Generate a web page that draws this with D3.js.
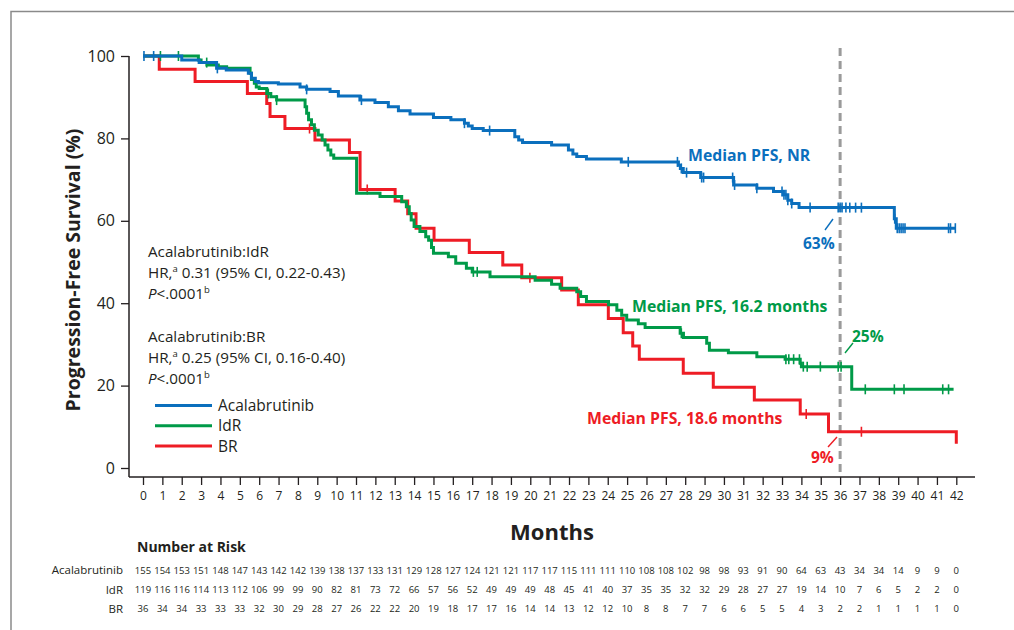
<!DOCTYPE html>
<html><head><meta charset="utf-8">
<script src="https://cdn.jsdelivr.net/npm/d3@7"></script>
<style>
body{margin:0;background:#fff;}
svg{display:block;font-family:"Open Sans",sans-serif;}
</style></head>
<body><svg id="chart" width="1014" height="630"></svg>
<script>
// ---------- data ----------
const seriesNames = ["Acalabrutinib", "IdR", "BR"];
const seriesColors = ["#0b6fbd", "#009a48", "#ee1c25"];

// Kaplan-Meier step change points [month, PFS %]
const acalSteps = [[0,100],[2.0,99.0],[2.9,98.4],[3.8,97.0],[4.3,96.6],[5.44,95.8],[5.6,94.6],[5.8,93.8],[5.96,93.5],[6.99,93.2],[8.11,92.5],[8.45,91.9],[9.66,91.4],[10.09,90.3],[11.2,89.3],[11.98,88.7],[12.67,87.7],[13.19,86.7],[13.79,85.9],[15.0,85.1],[15.9,84.5],[16.6,83.7],[16.8,83.0],[17.0,82.4],[17.57,81.9],[19.2,80.4],[19.4,79.6],[19.6,79.0],[21.1,78.4],[21.97,77.2],[22.2,76.2],[22.4,75.6],[22.9,75.0],[24.7,74.3],[27.65,73.5],[27.75,72.7],[27.9,71.7],[28.8,70.5],[30.5,68.7],[31.7,67.9],[32.56,67.1],[33.07,66.3],[33.3,65.0],[33.5,64.2],[33.88,63.2],[38.8,60.5],[38.9,58.2],[41.95,58.2]];
const idrSteps = [[0,100],[2.86,99.0],[3.0,98.4],[3.3,97.8],[3.89,97.4],[4.32,97.0],[5.53,95.8],[5.6,94.3],[5.75,93.4],[5.85,92.5],[6.0,92.1],[6.39,90.9],[6.6,90.1],[6.9,89.3],[8.37,87.7],[8.45,86.1],[8.55,84.5],[8.7,83.3],[8.85,82.0],[9.05,80.8],[9.25,79.6],[9.4,78.4],[9.55,77.2],[9.7,76.0],[9.85,75.2],[11.03,66.7],[12.24,65.9],[13.36,64.6],[13.6,63.4],[13.75,61.8],[13.85,60.2],[14.0,58.6],[14.3,57.4],[14.6,56.1],[14.75,55.3],[14.9,53.5],[15.0,52.1],[15.77,51.3],[16.15,49.7],[16.7,48.5],[17.0,47.6],[17.92,46.4],[20.25,45.6],[21.1,44.6],[21.54,43.6],[22.4,42.8],[22.6,41.6],[22.9,40.4],[24.04,39.6],[24.47,38.3],[24.72,37.1],[24.98,35.9],[25.58,35.0],[25.93,34.1],[27.74,32.7],[27.91,31.7],[29.11,30.3],[29.25,28.6],[30.23,28.0],[31.7,27.0],[33.16,26.4],[33.94,25.4],[34.0,24.6],[36.6,19.1],[41.86,19.1]];
const brSteps = [[0,100],[0.84,96.8],[2.69,93.8],[5.39,90.9],[6.39,88.5],[6.56,85.3],[7.33,82.4],[8.88,79.6],[10.66,76.6],[11.21,67.6],[13.02,64.8],[13.67,61.7],[14.1,58.2],[15.03,55.3],[16.85,52.3],[18.58,49.3],[19.56,46.2],[21.62,43.2],[22.48,39.6],[24.03,36.3],[24.8,32.8],[25.29,29.6],[25.63,26.4],[27.9,23.0],[29.45,19.6],[31.57,16.5],[33.94,13.1],[35.4,8.8],[42.0,8.8],[42.0,5.9]];

// censored observations (months)
const acalCensor = [0.05,0.55,3.84,8.45,11.28,16.6,17.9,25.06,27.6,27.8,28.07,28.85,28.95,30.45,30.55,31.7,33.0,33.1,33.2,33.3,33.5,34.45,35.9,36.0,36.1,36.3,36.5,36.8,37.1,38.82,38.95,39.05,39.15,39.25,39.35,41.6,41.7,41.95];
const idrCensor = [0.9,1.83,3.29,6.47,6.9,17.06,17.26,27.8,33.2,33.35,33.6,33.9,34.1,34.3,34.98,35.9,36.05,37.3,38.8,39.3,41.3,41.6];
const brCensor = [8.6,11.58,19.98,34.25,37.1];

// number at risk, months 0..42
const riskMonths = [0,1,2,3,4,5,6,7,8,9,10,11,12,13,14,15,16,17,18,19,20,21,22,23,24,25,26,27,28,29,30,31,32,33,34,35,36,37,38,39,40,41,42];
const acalRisk = [155,154,153,151,148,147,143,142,142,139,138,137,133,131,129,128,127,124,121,121,117,117,115,111,111,110,108,108,102,98,98,93,91,90,64,63,43,34,34,14,9,9,0];
const idrRisk = [119,116,116,114,113,112,106,99,99,90,82,81,73,72,66,57,56,52,49,49,49,48,45,41,40,37,35,35,32,32,29,28,27,27,19,14,10,7,6,5,2,2,0];
const brRisk = [36,34,34,33,33,33,32,30,29,28,27,26,22,22,20,19,18,17,17,16,14,14,13,12,12,10,8,8,7,7,6,6,5,5,4,3,2,2,1,1,1,1,0];

const xTicks = riskMonths;
const yTicks = [0,20,40,60,80,100];
const landmarkMonth = 36;
const landmarkLabels = ["63%", "25%", "9%"];
const medianLabels = ["Median PFS, NR", "Median PFS, 16.2 months", "Median PFS, 18.6 months"];

// ---------- drawing ----------
const svg = d3.select("#chart");
const ink = "#231f20";
const x = d3.scaleLinear().domain([0,42]).range([143,956.3]);
const y = d3.scaleLinear().domain([0,100]).range([468,56]);
const axisY = 477, axisX = 129;

// frame
svg.append("path").attr("d","M11,630 L11,11.5 L1014,11.5").attr("fill","none").attr("stroke","#8a8a8a").attr("stroke-width",1.5);

// axes
const xAxis = svg.append("g").attr("transform",`translate(0,${axisY})`)
  .call(d3.axisBottom(x).tickValues(xTicks).tickSize(8).tickPadding(6).tickFormat(d3.format("d")));
xAxis.select(".domain").remove();
xAxis.selectAll("line").attr("stroke",ink).attr("stroke-width",1.3);
xAxis.selectAll("text").attr("font-size",12).attr("fill",ink).attr("font-family","Open Sans");
svg.append("line").attr("x1",axisX).attr("x2",975).attr("y1",axisY).attr("y2",axisY).attr("stroke",ink).attr("stroke-width",1.5);

const yAxis = svg.append("g").attr("transform",`translate(${axisX},0)`)
  .call(d3.axisLeft(y).tickValues(yTicks).tickSize(8).tickPadding(6));
yAxis.select(".domain").remove();
yAxis.selectAll("line").attr("stroke",ink).attr("stroke-width",1.3);
yAxis.selectAll("text").attr("font-size",16).attr("fill",ink).attr("font-family","Open Sans");
svg.append("line").attr("x1",axisX).attr("x2",axisX).attr("y1",y(100)).attr("y2",axisY).attr("stroke",ink).attr("stroke-width",1.5);

// axis titles
svg.append("text").attr("transform","translate(80,270) rotate(-90)").attr("text-anchor","middle")
  .attr("font-size",19.5).attr("font-weight","bold").attr("fill",ink).text("Progression-Free Survival (%)");
svg.append("text").attr("x",552).attr("y",540).attr("text-anchor","middle")
  .attr("font-size",22).attr("font-weight","bold").attr("fill",ink).text("Months");

// landmark dashed line
svg.append("line").attr("x1",x(landmarkMonth)).attr("x2",x(landmarkMonth)).attr("y1",48).attr("y2",axisY)
  .attr("stroke","#9a9a9a").attr("stroke-width",3).attr("stroke-dasharray","8,5");

// curves
const allSteps = [acalSteps, idrSteps, brSteps];
const allCensor = [acalCensor, idrCensor, brCensor];
const line = d3.line().x(d=>x(d[0])).y(d=>y(d[1])).curve(d3.curveStepAfter);
function survAt(steps, t){ let v = steps[0][1]; for(const s of steps){ if(s[0] <= t) v = s[1]; } return v; }

[2,1,0].forEach(i=>{
  svg.append("path").datum(allSteps[i]).attr("d",line).attr("fill","none")
    .attr("stroke",seriesColors[i]).attr("stroke-width",3);
  svg.append("g").selectAll("line").data(allCensor[i]).join("line")
    .attr("x1",d=>x(d)).attr("x2",d=>x(d))
    .attr("y1",d=>y(survAt(allSteps[i],d))-5).attr("y2",d=>y(survAt(allSteps[i],d))+5)
    .attr("stroke",seriesColors[i]).attr("stroke-width",1.6);
});

// median labels
const medPos = [[688,161],[632,312],[587,424]];
medianLabels.forEach((t,i)=>{
  svg.append("text").attr("x",medPos[i][0]).attr("y",medPos[i][1]).attr("font-size",15.8)
    .attr("font-weight","bold").attr("fill",seriesColors[i]).text(t);
});
// landmark labels + leaders
const lmPos = [[803,249],[852,342],[811,463]];
const leaders = [[825,230,833,219],[845,353,853,343],[828,447,837,437]];
landmarkLabels.forEach((t,i)=>{
  svg.append("text").attr("x",lmPos[i][0]).attr("y",lmPos[i][1]).attr("font-size",15.5)
    .attr("font-weight","bold").attr("fill",seriesColors[i]).text(t);
  const l = leaders[i];
  svg.append("line").attr("x1",l[0]).attr("y1",l[1]).attr("x2",l[2]).attr("y2",l[3])
    .attr("stroke",seriesColors[i]).attr("stroke-width",1.4);
});

// stats text
const statLines = [
  {y:257, parts:[["Acalabrutinib:IdR"]]},
  {y:278, parts:[["HR,"],["a","sup"],[" 0.31 (95% CI, 0.22-0.43)"]]},
  {y:299, parts:[["P","it"],["<.0001"],["b","sup"]]},
  {y:342, parts:[["Acalabrutinib:BR"]]},
  {y:363, parts:[["HR,"],["a","sup"],[" 0.25 (95% CI, 0.16-0.40)"]]},
  {y:384, parts:[["P","it"],["<.0001"],["b","sup"]]}
];
statLines.forEach(ln=>{
  const t = svg.append("text").attr("x",148).attr("y",ln.y).attr("font-size",15.2).attr("fill",ink);
  ln.parts.forEach((p,idx)=>{
    const ts = t.append("tspan").text(p[0]);
    if(p[1]==="sup") ts.attr("font-size",9.5).attr("dy",-6);
    if(p[1]==="it") ts.attr("font-style","italic");
    if(idx>0 && ln.parts[idx-1][1]==="sup") ts.attr("dy",6);
  });
});

// legend
seriesNames.forEach((n,i)=>{
  const ly = 405.5 + i*20.3;
  svg.append("line").attr("x1",155).attr("x2",212).attr("y1",ly).attr("y2",ly)
    .attr("stroke",seriesColors[i]).attr("stroke-width",3);
  svg.append("text").attr("x",218).attr("y",ly+5.5).attr("font-size",15.5).attr("fill",ink).text(n);
});

// number at risk
svg.append("text").attr("x",137).attr("y",552).attr("font-size",14).attr("font-weight","bold").attr("fill",ink).text("Number at Risk");
const risks = [acalRisk, idrRisk, brRisk];
const rowY = [570, 589.5, 608.5];
risks.forEach((r,i)=>{
  svg.append("text").attr("x",123).attr("y",rowY[i]+4).attr("text-anchor","end")
    .attr("font-size",11.5).attr("fill",ink).text(seriesNames[i]);
  svg.append("g").selectAll("text").data(r).join("text")
    .attr("x",(d,j)=>x(riskMonths[j])).attr("y",rowY[i]+3.5).attr("text-anchor","middle")
    .attr("font-size",9.5).attr("fill",ink).text(d=>d);
});
</script></body></html>
